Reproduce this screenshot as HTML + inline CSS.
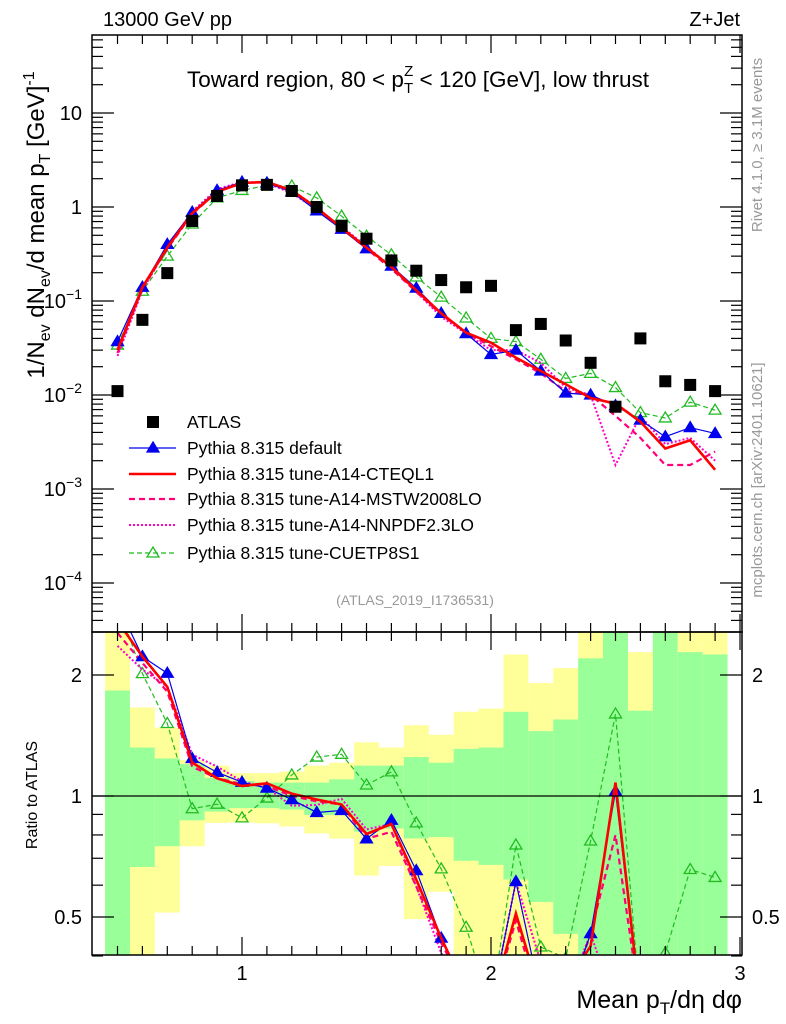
<!DOCTYPE html>
<html><head><meta charset="utf-8"><style>
html,body{margin:0;padding:0;background:#fff;overflow:hidden;width:786px;height:1024px;}
svg{display:block;font-family:"Liberation Sans",Arial,sans-serif;}
</style></head><body>
<svg id="c" width="786" height="1024" viewBox="0 0 786 1024">
<defs>
<clipPath id="mclip"><rect x="92" y="35" width="650" height="597"/></clipPath>
<clipPath id="rclip"><rect x="92" y="632" width="650" height="323"/></clipPath>
</defs>
<g id="bands" clip-path="url(#rclip)"></g>
<g id="mainplot" clip-path="url(#mclip)"></g>
<g id="ratioplot" clip-path="url(#rclip)"></g>
<g id="axes"></g>
<text x="103" y="26" font-size="20">13000 GeV pp</text>
<text x="740" y="26" font-size="20" text-anchor="end">Z+Jet</text>
<text x="418" y="87" font-size="22.5" text-anchor="middle">Toward region, 80 &lt; p<tspan font-size="15" dy="6">T</tspan><tspan font-size="15" dx="-9" dy="-17">Z</tspan><tspan dy="11"> &lt; 120 [GeV], low thrust</tspan></text>
<text x="415" y="605" font-size="14" fill="#999" text-anchor="middle">(ATLAS_2019_I1736531)</text>
<text transform="translate(762,145) rotate(-90)" font-size="15" fill="#999" text-anchor="middle">Rivet 4.1.0, ≥ 3.1M events</text>
<text transform="translate(762,480) rotate(-90)" font-size="15" fill="#999" text-anchor="middle">mcplots.cern.ch [arXiv:2401.10621]</text>
<text transform="translate(44,225) rotate(-90)" font-size="24" text-anchor="middle">1/N<tspan font-size="16" dy="6">ev</tspan><tspan dy="-6"> dN</tspan><tspan font-size="16" dy="6">ev</tspan><tspan dy="-6">/d mean p</tspan><tspan font-size="16" dy="6">T</tspan><tspan dy="-6"> [GeV]</tspan><tspan font-size="16" dy="-10">-1</tspan></text>
<text transform="translate(37,795) rotate(-90)" font-size="16" text-anchor="middle">Ratio to ATLAS</text>
<text x="742" y="1008" font-size="25" text-anchor="end">Mean p<tspan font-size="17" dy="6">T</tspan><tspan dy="-6">/dη dφ</tspan></text>
<g id="legend"></g>
</svg>
<script>
const xCenters=[0.5,0.6,0.7,0.8,0.9,1.0,1.1,1.2,1.3,1.4,1.5,1.6,1.7,1.8,1.9,2.0,2.1,2.2,2.3,2.4,2.5,2.6,2.7,2.8,2.9];
const atlas=[0.011,0.063,0.198,0.71,1.31,1.7,1.72,1.48,1.0,0.63,0.46,0.27,0.21,0.167,0.14,0.145,0.049,0.057,0.038,0.022,0.0075,0.040,0.014,0.0128,0.011];
const pyDefault=[0.037,0.14,0.40,0.88,1.5,1.84,1.8,1.45,0.91,0.58,0.36,0.235,0.137,0.074,0.045,0.027,0.030,0.018,0.0105,0.010,0.0077,0.0054,0.0036,0.0045,0.0039];
const pyCTEQ=[0.030,0.14,0.37,0.86,1.45,1.8,1.85,1.5,0.98,0.6,0.37,0.23,0.13,0.074,0.046,0.036,0.025,0.018,0.013,0.0093,0.0081,0.0052,0.0027,0.0033,0.0016];
const pyMSTW=[0.028,0.135,0.36,0.84,1.45,1.82,1.82,1.48,0.97,0.6,0.36,0.22,0.125,0.072,0.046,0.033,0.024,0.017,0.011,0.010,0.0060,0.0035,0.0018,0.0018,0.0025];
const pyNNPDF=[0.026,0.13,0.37,0.9,1.55,1.85,1.8,1.4,0.95,0.62,0.38,0.23,0.125,0.068,0.045,0.03,0.03,0.022,0.012,0.010,0.0018,0.006,0.003,0.0035,0.002];
const pyCUETP=[0.034,0.127,0.30,0.66,1.25,1.5,1.7,1.67,1.25,0.8,0.49,0.31,0.18,0.11,0.066,0.04,0.037,0.024,0.015,0.017,0.012,0.0065,0.0057,0.0084,0.0069];
const greenHi=[1.83,1.32,1.24,1.20,1.11,1.09,1.08,1.08,1.08,1.10,1.19,1.19,1.25,1.21,1.31,1.32,1.62,1.45,1.55,2.2,3,1.63,3,2.28,2.25];
const greenLo=[0.3,0.666,0.75,0.87,0.915,0.933,0.933,0.925,0.897,0.897,0.815,0.83,0.784,0.79,0.69,0.674,0.62,0.545,0.454,0.3,0.3,0.3,0.3,0.3,0.3];
const yellowHi=[3,1.66,1.48,1.23,1.19,1.14,1.14,1.15,1.19,1.21,1.36,1.32,1.50,1.42,1.62,1.65,2.25,1.91,2.08,3,3,2.28,3,3,3];
const yellowLo=[0.3,0.3,0.513,0.75,0.857,0.86,0.855,0.84,0.807,0.784,0.634,0.67,0.494,0.578,0.3,0.3,0.3,0.3,0.3,0.3,0.3,0.3,0.3,0.3,0.3];
const xTicks=[1,2,3];
const yMainTicks=[1,0,-1,-2,-3,-4];
const yRatioTicks=[0.5,1,2];

const NS="http://www.w3.org/2000/svg";
const X=v=>242+(v-1)*249;
const YM=v=>207-Math.log10(v)*94;
const YR=v=>796-Math.log2(Math.min(3,Math.max(0.3,v)))*121;
function mk(tag,attrs,parent){const e=document.createElementNS(NS,tag);for(const k in attrs)e.setAttribute(k,attrs[k]);parent.appendChild(e);return e;}
const bands=document.getElementById('bands'),mp=document.getElementById('mainplot'),rp=document.getElementById('ratioplot'),ax=document.getElementById('axes'),lg=document.getElementById('legend');

xCenters.forEach((x,i)=>{
 const x0=X(x-0.05),w=X(x+0.05)-x0;
 const y=mk('rect',{x:x0,y:YR(yellowHi[i]),width:w,height:YR(yellowLo[i])-YR(yellowHi[i]),fill:'#ffff99'},bands);
 
 
 const g=mk('rect',{x:x0,y:YR(greenHi[i]),width:w,height:YR(greenLo[i])-YR(greenHi[i]),fill:'#99ff99'},bands);
 
 
});

const series=[
 {d:pyCUETP,c:'#22bb22',w:1.2,dash:'5,3',m:'otri',n:'cuetp8s1'},
 {d:pyNNPDF,c:'#ff00cc',w:2,dash:'2,2',m:null,n:'nnpdf'},
 {d:pyMSTW,c:'#ff0077',w:2.2,dash:'6,4',m:null,n:'mstw'},
 {d:pyDefault,c:'#0000ee',w:1.2,dash:null,m:'tri',n:'default'},
 {d:pyCTEQ,c:'#ff0000',w:2.6,dash:null,m:null,n:'cteql1'}
];
function tri(parent,x,y,c,filled){return mk('path',{d:`M${x},${y-6}L${x+6},${y+4}L${x-6},${y+4}Z`,fill:filled?c:'#fff','fill-opacity':filled?1:0,stroke:c,'stroke-width':1.3},parent);}
series.forEach(s=>{
 const ptsM=s.d.map((v,i)=>X(xCenters[i])+','+YM(v)).join(' ');
 const l=mk('polyline',{points:ptsM,fill:'none',stroke:s.c,'stroke-width':s.w},mp);
 if(s.dash)l.setAttribute('stroke-dasharray',s.dash);
 
 
 const ptsR=s.d.map((v,i)=>X(xCenters[i])+','+YR(v/atlas[i])).join(' ');
 const r=mk('polyline',{points:ptsR,fill:'none',stroke:s.c,'stroke-width':s.w},rp);
 if(s.dash)r.setAttribute('stroke-dasharray',s.dash);
 
 
 if(s.m){s.d.forEach((v,i)=>{
  const a=tri(mp,X(xCenters[i]),YM(v),s.c,s.m==='tri');
  
  
  const b=tri(rp,X(xCenters[i]),YR(v/atlas[i]),s.c,s.m==='tri');
  
  
 });}
});
atlas.forEach((v,i)=>{
 const p=mk('rect',{x:X(xCenters[i])-6,y:YM(v)-6,width:12,height:12,fill:'#000'},mp);
 
 
});
const one=mk('line',{x1:92,x2:742,y1:YR(1),y2:YR(1),stroke:'#000','stroke-width':1.2},rp);



[[35,632],[632,955]].forEach(([t,b])=>{const f=mk('rect',{x:92,y:t,width:650,height:b-t,fill:'none',stroke:'#000','stroke-width':1.5},ax);
 
 });
for(let v=0.5;v<=3.001;v+=0.1){const x=X(v);const maj=Math.abs(v-Math.round(v))<0.01;const L=maj?18:9;
 [[35,1],[632,-1],[632,1],[955,-1]].forEach(([y,dir])=>mk('line',{x1:x,x2:x,y1:y,y2:y+dir*L,stroke:'#000','stroke-width':1.2},ax));}
xTicks.forEach(v=>{const t=mk('text',{x:X(v),y:980,'font-size':20,'text-anchor':'middle'},ax);t.textContent=v;
 
 });
for(let e=-5;e<=1;e++){for(let k=1;k<=9;k++){const v=k*Math.pow(10,e);const y=YM(v);if(y<35||y>632)continue;const L=k===1?22:11;
 mk('line',{x1:92,x2:92+L,y1:y,y2:y,stroke:'#000','stroke-width':1.2},ax);mk('line',{x1:742,x2:742-L,y1:y,y2:y,stroke:'#000','stroke-width':1.2},ax);}}
yMainTicks.forEach(e=>{const t=mk('text',{x:82,y:YM(Math.pow(10,e))+7,'font-size':20,'text-anchor':'end'},ax);
 if(e===1)t.textContent='10';else if(e===0)t.textContent='1';else{t.textContent='10';const s=mk('tspan',{'font-size':14,dy:-9},t);s.textContent='−'+(-e);}
 
 });
[0.4,0.5,0.6,0.7,0.8,0.9,1,2].forEach(v=>{const y=YR(v);const maj=(v===0.5||v===1||v===2);const L=maj?22:11;
 mk('line',{x1:92,x2:92+L,y1:y,y2:y,stroke:'#000','stroke-width':1.2},ax);mk('line',{x1:742,x2:742-L,y1:y,y2:y,stroke:'#000','stroke-width':1.2},ax);});
yRatioTicks.forEach(v=>{[[82,'end'],[752,'start']].forEach(([x,a])=>{const t=mk('text',{x:x,y:YR(v)+7,'font-size':20,'text-anchor':a},ax);t.textContent=v;
 
 });});

const legNames=['ATLAS','Pythia 8.315 default','Pythia 8.315 tune-A14-CTEQL1','Pythia 8.315 tune-A14-MSTW2008LO','Pythia 8.315 tune-A14-NNPDF2.3LO','Pythia 8.315 tune-CUETP8S1'];
const legY=[422,448,474,499,525,553];
const legStyle=[null,series[3],series[4],series[2],series[1],series[0]];
legNames.forEach((n,i)=>{const g=mk('g',{},lg);
 
 
 const y=legY[i];
 if(i===0)mk('rect',{x:147,y:y-6,width:12,height:12,fill:'#000'},g);
 else{const s=legStyle[i];const l=mk('line',{x1:129,x2:176,y1:y,y2:y,stroke:s.c,'stroke-width':s.w},g);if(s.dash)l.setAttribute('stroke-dasharray',s.dash);
  if(s.m)tri(g,153,y,s.c,s.m==='tri');}
 const t=mk('text',{x:187,y:y+6,'font-size':17.5},g);t.textContent=n;});
</script>
</body></html>
